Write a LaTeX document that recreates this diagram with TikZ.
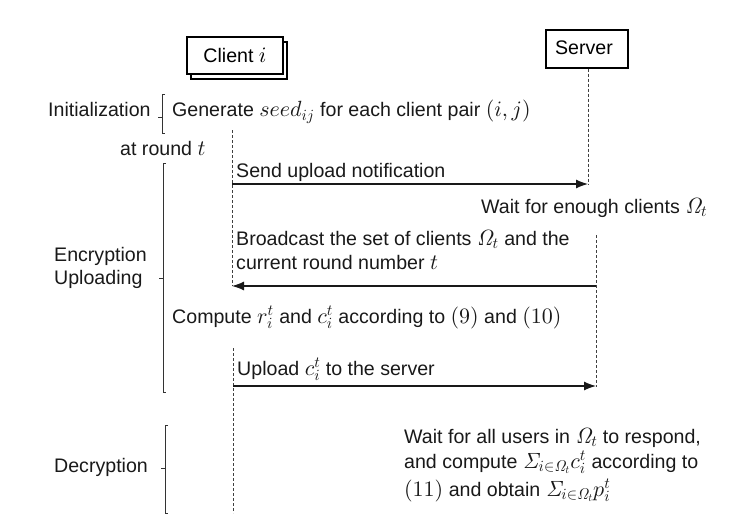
\documentclass[tikz,border=0pt]{standalone}
\usepackage[no-math]{fontspec}
\setmainfont{Liberation Sans}
\DeclareFontShape{OML}{cmm}{m}{it}{<-6>cmmi5<6-8>cmmi7<8->cmmi10}{}
\DeclareFontShape{OMS}{cmsy}{m}{n}{<-6>cmsy5<6-8>cmsy7<8->cmsy10}{}
\DeclareFontFamily{OT1}{cmr}{\hyphenchar\font45}
\DeclareFontShape{OT1}{cmr}{m}{n}{<-6>cmr5<6-8>cmr7<8->cmr10}{}
\DeclareFontShape{OT1}{cmr}{m}{it}{<->cmti10}{}
\DeclareMathSizes{19.6}{22}{15.5}{11}
\usetikzlibrary{arrows.meta}
\begin{document}
\begin{tikzpicture}[x=1pt,y=-1pt,
  txt/.style={font=\fontsize{19.6}{24}\selectfont, inner sep=0pt, anchor=base west, text=black!90},
  actor/.style={draw, font=\fontsize{19.6}{24}\selectfont, inner sep=0pt, anchor=center},
  life/.style={draw=black!75, line width=0.8pt, dash pattern=on 3pt off 2pt},
  msg/.style={draw=black!90, line width=1.2pt, -{Latex[length=12pt,width=9pt]}},
  brack/.style={draw=black!80, line width=0.9pt}]
\useasboundingbox (0,0) rectangle (731,527);
% actors
\node[actor, line width=1.6pt, minimum width=96pt, minimum height=37pt] (clientback) at (239,60.5) {};
\node[actor, line width=1.6pt, fill=white, minimum width=96pt, minimum height=37pt] (client) at (235,55.5) {Client $i$};
\node[actor, line width=1.3pt, minimum width=82pt, minimum height=38pt] (server) at (587,49) {\raisebox{3pt}{Server\hspace{6pt}}};
% lifelines
\coordinate (c1) at (232,130);
\coordinate (c2) at (232,286);
\coordinate (c3) at (233,348);
\coordinate (c4) at (233,513);
\coordinate (s1) at (588,184);
\coordinate (s2) at (596,235);
\coordinate (s3) at (596,286);
\coordinate (s4) at (596,387);
\coordinate (a1) at (232,184);
\coordinate (a3) at (233,386);
\draw[life] (c1) -- (c2);
\draw[life] (c3) -- (c4);
\draw[life] (server.south -| s1) -- (s1);
\draw[life] (s2) -- (s4);
% messages
\draw[msg] (a1) -- (s1);
\draw[msg] (s3) -- (c2);
\draw[msg] (a3) -- (a3 -| s4);
% phase labels and brackets
\node[txt] (init) at (48,117) {Initialization};
\draw[brack] (165,94) -- (162,94) -- (162,133) -- (165,133) (162,117) -- (158,117);
\node[txt] (round) at (120,155) {at round $t$};
\node[txt] (enc) at (54,261) {Encryption};
\node[txt] (upl) at (54,284) {Uploading};
\draw[brack] (166,163) -- (163,163) -- (163,392) -- (166,392) (163,278) -- (159,278);
\node[txt] (dec) at (54,472) {Decryption};
\draw[brack] (168,425) -- (165,425) -- (165,513) -- (168,513) (165,468) -- (161,468);
% step texts
\node[txt] (gen) at (172,117) {Generate $seed_{ij}$ for each client pair $(i,j)$};
\node[txt] (send) at (236,177) {Send upload notification};
\node[txt] (wait) at (481,213) {Wait for enough clients $\mathit{\Omega}_t$};
\node[txt] (bc1) at (236,245) {Broadcast the set of clients $\mathit{\Omega}_t$ and the};
\node[txt] (bc2) at (236,269) {current round number $t$};
\node[txt] (comp) at (172,323) {Compute $r_i^t$ and $c_i^t$ according to $(9)$ and $(10)$};
\node[txt] (up) at (237,375) {Upload $c_i^t$ to the server};
\node[txt] (w1) at (404,443) {Wait for all users in $\mathit{\Omega}_t$ to respond,};
\node[txt] (w2) at (404,468) {and compute $\mathit{\Sigma}_{i\in\mathit{\Omega}_t}c_i^t$ according to};
\node[txt] (w3) at (404,496) {$(11)$ and obtain $\mathit{\Sigma}_{i\in\mathit{\Omega}_t}p_i^t$};
\end{tikzpicture}
\end{document}
